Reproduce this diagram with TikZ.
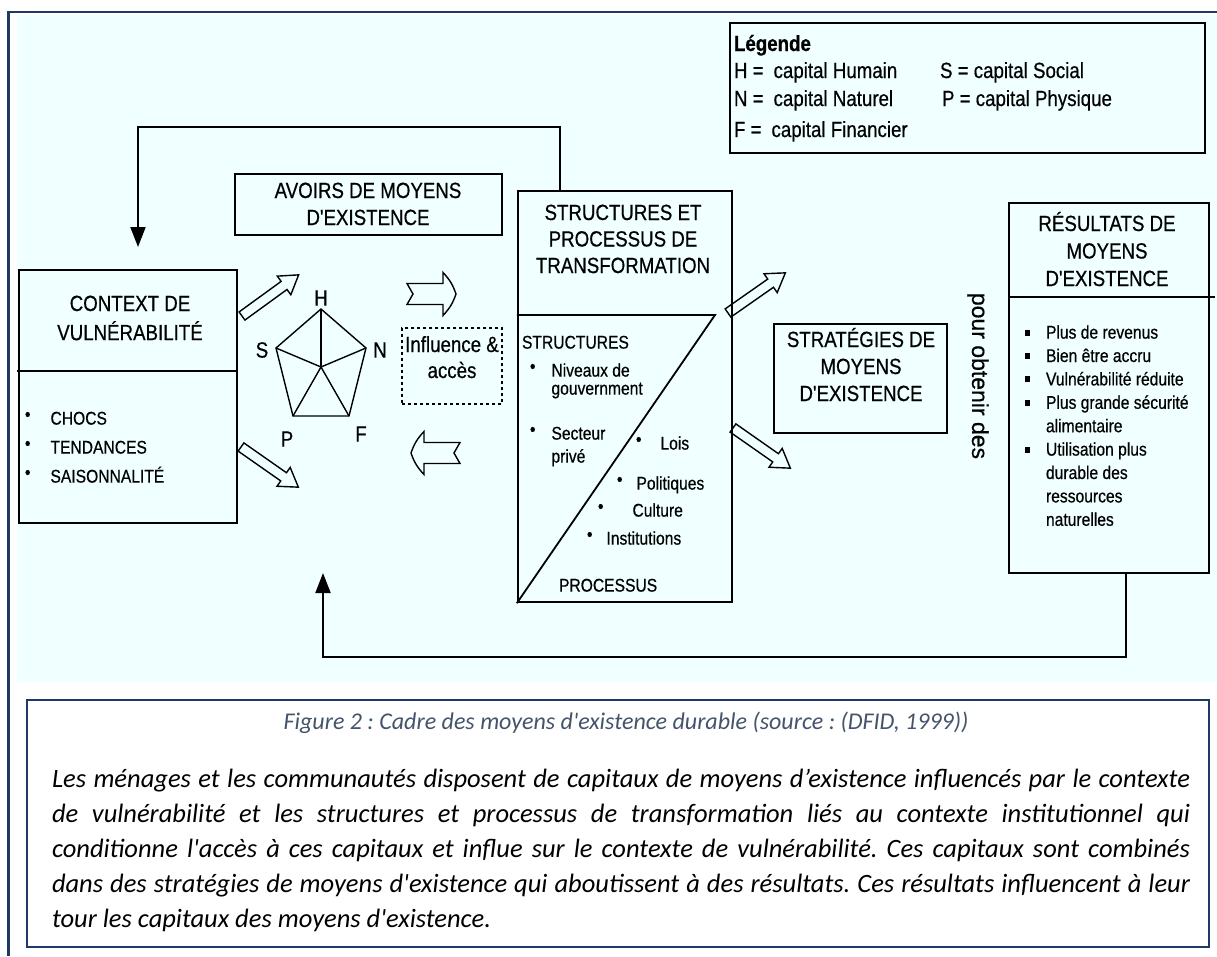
\documentclass[tikz,border=0pt]{standalone}
\usepackage{fontspec}
\usetikzlibrary{arrows.meta}
\newfontfamily\diagfont[FakeStretch=0.85, FakeBold=0.5]{Liberation Sans}
\newfontfamily\plainsans[FakeBold=0.5]{Liberation Sans}
\newfontfamily\capfont{Carlito}
\definecolor{framenavy}{HTML}{1F3864}
\definecolor{paleazure}{HTML}{F0FFFF}
\definecolor{captiongrey}{HTML}{44546A}
\newcommand\ttlfont{\diagfont\fontsize{22}{27}\selectfont}
\newcommand\smlfont{\diagfont\fontsize{18.4}{23.4}\selectfont}
\newcommand\sqbullet{\rule[3pt]{5pt}{6pt}}
\newcommand\rbullet{\raisebox{4pt}{\textbullet}}
\frenchspacing
\begin{document}
\begin{tikzpicture}[x=1pt,y=-1pt,
  box/.style={draw, line width=1.8pt, rectangle, inner sep=0pt},
  boxline/.style={line width=1.8pt},
  txt/.style={inner sep=0pt, outer sep=0pt},
  penta/.style={line width=1.4pt, line join=miter},
  arrowline/.style={draw, line width=1.4pt, line join=miter},
  fb/.style={line width=2pt, -{Triangle[length=20pt,width=15pt]}},
  blockarrow/.pic={\draw[arrowline] (0,-5) -- (52,-5) -- (52,-11.5) -- (70,0) -- (52,11.5) -- (52,5) -- (0,5) -- cycle;},
  notcharrow/.pic={\draw[arrowline] (0,-10.5) -- (36,-10.5) -- (36,-21.5) to[bend left=12] (49,0) to[bend left=12] (36,21.5) -- (36,10.5) -- (0,10.5) -- (6,0) -- cycle;}
]
\useasboundingbox (0,0) rectangle (1217,956);
\fill[white] (0,0) rectangle (1217,956);
% tinted panel behind the framework
\fill[paleazure] (17,15) rectangle (1217,682);
% outer frame (open to the right and bottom)
\draw[framenavy, line width=2.5pt] (1217,12) -- (8.7,12) -- (8.7,956);

% ---------- legend ----------
\node[box, minimum width=475pt, minimum height=130pt] (leg) at (967.5,88) {};
\node[txt, anchor=base west, font=\ttlfont\bfseries] (legT) at (734,51) {Légende};
\node[txt, anchor=base west, font=\ttlfont] (legH) at (734,78) {H =\hspace{10pt}capital Humain};
\node[txt, anchor=base west, font=\ttlfont] (legN) at (734,106) {N =\hspace{10pt}capital Naturel};
\node[txt, anchor=base west, font=\ttlfont] (legF) at (734,137) {F =\hspace{10pt}capital Financier};
\node[txt, anchor=base west, font=\ttlfont] (legS) at (940,78) {S = capital Social};
\node[txt, anchor=base west, font=\ttlfont] (legP) at (942,106) {P = capital Physique};

% ---------- vulnerability context ----------
\node[box, minimum width=218pt, minimum height=253pt] (ctx) at (128,396.5) {};
\draw[boxline] (17,371) -- (ctx.east |- 0,371);
\node[txt, anchor=base, font=\ttlfont] (ctxT) at (130,311)
  {\begin{tabular}[t]{@{}c@{}}CONTEXT DE\\[2pt] VULNÉRABILITÉ\end{tabular}};
\node[txt, anchor=base west, font={\diagfont\fontsize{18.4}{29}\selectfont}] (ctxL) at (25,424.6)
  {\begin{tabular}[t]{@{}l@{\hspace{20pt}}l@{}}\rbullet & CHOCS\\ \rbullet & TENDANCES\\ \rbullet & SAISONNALITÉ\end{tabular}};

% ---------- livelihood assets ----------
\node[box, minimum width=267pt, minimum height=61pt] (av) at (368.5,204.5) {};
\node[txt, anchor=base, font=\ttlfont] (avT) at (368,198)
  {\begin{tabular}[t]{@{}c@{}}AVOIRS DE MOYENS\\ D'EXISTENCE\end{tabular}};

% asset pentagon
\coordinate (pc) at (321,367);
\coordinate (pH) at (321,309);
\coordinate (pN) at (366,348);
\coordinate (pF) at (349,416);
\coordinate (pP) at (293,416);
\coordinate (pS) at (276,348);
\draw[penta] (pH) -- (pN) -- (pF) -- (pP) -- (pS) -- cycle;
\foreach \v in {pH,pN,pF,pP,pS} \draw[penta] (pc) -- (\v);
\node[txt, font=\ttlfont] (lH) at (321,298) {H};
\node[txt, font=\ttlfont] (lS) at (262,350) {S};
\node[txt, font=\ttlfont] (lN) at (380,350) {N};
\node[txt, font=\ttlfont] (lP) at (287,439) {P};
\node[txt, font=\ttlfont] (lF) at (361,434) {F};

% influence and access
\node[draw, dashed, line width=1.5pt, rectangle, inner sep=0pt, minimum width=100pt, minimum height=76pt] (infl) at (452,366) {};
\node[txt, anchor=base, font={\diagfont\fontsize{22}{26}\selectfont}] (inflT) at (452,352)
  {\begin{tabular}[t]{@{}c@{}}Influence \&\\ accès\end{tabular}};

% hollow arrows
\pic[rotate=36] at (242,316) {blockarrow};
\pic[rotate=-35] at (241,447) {blockarrow};
\pic at (407,294) {notcharrow};
\pic[rotate=180] at (460,453) {notcharrow};
\pic[rotate=35] at (728,313) {blockarrow};
\pic[rotate=-35] at (733,428) {blockarrow};

% ---------- transforming structures and processes ----------
\node[box, line width=2.4pt, minimum width=214pt, minimum height=411pt] (st) at (625,396.5) {};
\draw[boxline] (st.west |- 0,315) -- (715,315) -- (st.south west);
\node[txt, anchor=base, font={\diagfont\fontsize{22}{26.5}\selectfont}] (stT) at (623,220)
  {\begin{tabular}[t]{@{}c@{}}STRUCTURES ET\\ PROCESSUS DE\\ TRANSFORMATION\end{tabular}};
\node[txt, anchor=base west, font=\smlfont] (stS) at (522,348.6) {STRUCTURES};
\node[txt, anchor=base west, font={\diagfont\fontsize{18.4}{18}\selectfont}] (stA) at (530,376.6)
  {\begin{tabular}[t]{@{}l@{\hspace{16pt}}l@{}}\rbullet & Niveaux de\\ & gouvernment\end{tabular}};
\node[txt, anchor=base west, font={\diagfont\fontsize{18.4}{23}\selectfont}] (stB) at (530,439.6)
  {\begin{tabular}[t]{@{}l@{\hspace{16pt}}l@{}}\rbullet & Secteur\\ & privé\end{tabular}};
\node[txt, anchor=base west, font=\smlfont] (stC) at (636,449.6) {\rbullet\hspace{19pt}Lois};
\node[txt, anchor=base west, font=\smlfont] (stD) at (617,489.6) {\rbullet\hspace{14pt}Politiques};
\node[txt, anchor=base west, font=\smlfont] (stE) at (598,516.6) {\rbullet\hspace{29pt}Culture};
\node[txt, anchor=base west, font=\smlfont] (stF) at (587,544.6) {\rbullet\hspace{14pt}Institutions};
\node[txt, anchor=base west, font=\smlfont] (stP) at (559,591.6) {PROCESSUS};

% ---------- livelihood strategies ----------
\node[box, minimum width=173pt, minimum height=109pt] (sg) at (860.5,378.5) {};
\node[txt, anchor=base, font=\ttlfont] (sgT) at (861,347)
  {\begin{tabular}[t]{@{}c@{}}STRATÉGIES DE\\ MOYENS\\ D'EXISTENCE\end{tabular}};

\node[txt, rotate=-90, font={\plainsans\fontsize{23}{27}\selectfont}] (pour) at (978,376) {pour obtenir des};

% ---------- livelihood outcomes ----------
\node[box, minimum width=200pt, minimum height=370pt] (rs) at (1109,388) {};
\draw[boxline] (rs.west |- 0,297) -- (1215,297);
\node[txt, anchor=base, font={\diagfont\fontsize{22}{27.5}\selectfont}] (rsT) at (1107,231)
  {\begin{tabular}[t]{@{}c@{}}RÉSULTATS DE\\ MOYENS\\ D'EXISTENCE\end{tabular}};
\node[txt, anchor=base west, font=\smlfont] (rsL) at (1024.5,338.6)
  {\begin{tabular}[t]{@{}l@{\hspace{16.5pt}}l@{}}
    \sqbullet & Plus de revenus\\
    \sqbullet & Bien être accru\\
    \sqbullet & Vulnérabilité réduite\\
    \sqbullet & Plus grande sécurité\\
              & alimentaire\\
    \sqbullet & Utilisation plus\\
              & durable des\\
              & ressources\\
              & naturelles
  \end{tabular}};

% ---------- feedback connectors ----------
\coordinate (ctxIn) at (138,247);
\coordinate (avIn) at (323,573);
\draw[fb] ([xshift=-65pt]st.north) |- (ctxIn |- 0,127) -- (ctxIn);
\draw[fb] ([xshift=17pt]rs.south) |- (avIn |- 0,657) -- (avIn);

% ---------- caption ----------
\node[draw=framenavy, fill=white, line width=2.5pt, rectangle, inner sep=0pt, minimum width=1182pt, minimum height=247pt] (capbox) at (618,823.5) {};
\node[txt, anchor=base, text=captiongrey, font={\capfont\itshape\fontsize{24}{28}\selectfont}] (capT) at (626,729)
  {Figure 2 : Cadre des moyens d'existence durable (source : (DFID, 1999))};
\node[txt, anchor=base west] (capB) at (52,787)
  {\parbox[t]{1138pt}{\capfont\itshape\fontsize{26.5}{35}\selectfont
  Les ménages et les communautés disposent de capitaux de moyens d’existence influencés par le contexte\linebreak
  de vulnérabilité et les structures et processus de transformation liés au contexte institutionnel qui\linebreak
  conditionne l'accès à ces capitaux et influe sur le contexte de vulnérabilité. Ces capitaux sont combinés\linebreak
  dans des stratégies de moyens d'existence qui aboutissent à des résultats. Ces résultats influencent à leur\linebreak
  tour les capitaux des moyens d'existence.}};
\end{tikzpicture}
\end{document}
